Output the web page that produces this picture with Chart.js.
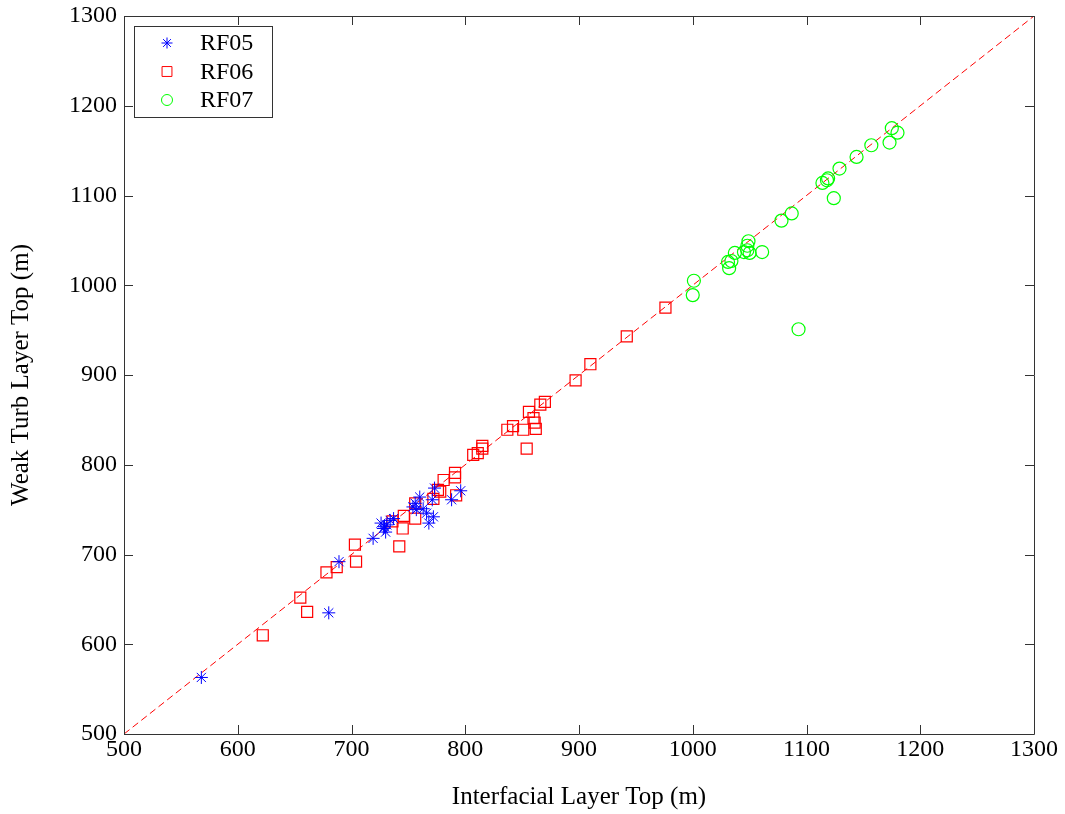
<!DOCTYPE html>
<html>
<head>
<meta charset="utf-8">
<script src="https://cdn.jsdelivr.net/npm/chart.js@4/dist/chart.umd.min.js"></script>
<style>
  html, body { margin: 0; padding: 0; background: #fff; }
  #wrap { width: 1065px; height: 814px; position: relative; }
</style>
</head>
<body>
<div id="wrap"><canvas id="layers"></canvas></div>
<script>
// interfacial layer top (x) vs weak turbulence layer top (y), metres
const rf05X = [568, 680, 689, 719, 726, 728, 729, 730, 731, 734, 737, 754, 756, 757, 760, 763, 766, 768, 772, 771, 773, 788, 796];
const rf05Y = [563, 635, 692, 718, 735, 729, 731, 725, 733, 738, 740, 753, 757, 750, 764, 751, 746, 735, 742, 761, 774, 761, 771];

const rf06X = [622, 655, 661, 678, 687, 703, 704, 742, 736, 746, 745, 756, 756, 772, 776, 781, 791, 791, 792, 778, 807, 811, 815, 815, 837, 842, 851, 854, 856, 860, 861, 862, 866, 870, 897, 910, 942, 976];
const rf06Y = [610, 652, 636, 680, 686, 711, 692, 709, 737, 743, 729, 740, 757, 762, 772, 783, 791, 786, 766, 770, 811, 813, 821, 818, 839, 843, 839, 818, 859, 852, 847, 840, 867, 870, 894, 912, 943, 975];

const rf07X = [1001, 1000, 1031, 1032, 1037, 1034, 1045, 1048, 1049, 1050, 1061, 1048, 1093, 1078, 1087, 1124, 1114, 1118, 1119, 1129, 1144, 1157, 1173, 1175, 1180];
const rf07Y = [1005, 989, 1026, 1019, 1036, 1027, 1037, 1039, 1049, 1036, 1037, 1044, 951, 1072, 1080, 1097, 1114, 1117, 1119, 1130, 1143, 1156, 1159, 1175, 1170];

const oneToOne = [500, 1300];
const axisMin = 500;
const axisMax = 1300;
const tickStep = 100;

const serif = '"Liberation Serif", "Times New Roman", serif';
const axisColor = '#333';

function toPoints(xs, ys) {
    return xs.map((x, i) => ({ x: x, y: ys[i] }));
}

// box around the plot with matlab-style inward ticks
const boxTicks = {
    id: 'boxTicks',
    afterDraw(chart) {
        const ctx = chart.ctx;
        const a = chart.chartArea;
        const xs = chart.scales.x;
        const ys = chart.scales.y;
        const len = 9;
        ctx.save();
        ctx.strokeStyle = axisColor;
        ctx.lineWidth = 1;
        ctx.beginPath();
        ctx.rect(Math.round(a.left) + 0.5, Math.round(a.top) + 0.5, Math.round(a.right - a.left), Math.round(a.bottom - a.top));
        for (let v = axisMin; v <= axisMax; v += tickStep) {
            const px = Math.round(xs.getPixelForValue(v)) + 0.5;
            ctx.moveTo(px, a.bottom); ctx.lineTo(px, a.bottom - len);
            ctx.moveTo(px, a.top); ctx.lineTo(px, a.top + len);
            const py = Math.round(ys.getPixelForValue(v)) + 0.5;
            ctx.moveTo(a.left, py); ctx.lineTo(a.left + len, py);
            ctx.moveTo(a.right, py); ctx.lineTo(a.right - len, py);
        }
        ctx.stroke();
        ctx.restore();
    }
};

// legend box in the upper left corner
const cornerLegend = {
    id: 'cornerLegend',
    afterDraw(chart) {
        const ctx = chart.ctx;
        const a = chart.chartArea;
        const bx = a.left + 10, by = a.top + 10, bw = 138, bh = 91;
        ctx.save();
        ctx.fillStyle = '#fff';
        ctx.fillRect(bx, by, bw, bh);
        ctx.strokeStyle = axisColor;
        ctx.lineWidth = 1;
        ctx.strokeRect(Math.round(bx) + 0.5, Math.round(by) + 0.5, bw, bh);
        ctx.font = '24px ' + serif;
        ctx.textBaseline = 'middle';
        const rows = chart.data.datasets.filter(d => d.type !== 'line');
        rows.forEach((d, i) => {
            const cy = by + 17 + i * 28.5;
            ctx.strokeStyle = d.borderColor;
            ctx.fillStyle = 'rgba(0,0,0,0)';
            ctx.lineWidth = 1;
            Chart.helpers.drawPoint(ctx, {
                pointStyle: d.pointStyle,
                radius: d.pointStyle === 'rect' ? 7 : 5.5,
                rotation: 0,
                borderWidth: 1
            }, bx + 33, cy);
            ctx.fillStyle = '#000';
            ctx.fillText(d.label, bx + 66, cy + 1);
        });
        ctx.restore();
    }
};

const plainTick = v => String(v);

const ctx = document.getElementById('layers');
const chart = new Chart(ctx, {
    type: 'scatter',
    data: {
        datasets: [
            {
                label: 'RF05',
                data: toPoints(rf05X, rf05Y),
                pointStyle: 'star',
                pointRadius: 6.5,
                borderColor: '#0000ff',
                backgroundColor: 'rgba(0,0,0,0)',
                pointBorderWidth: 1
            },
            {
                label: 'RF06',
                data: toPoints(rf06X, rf06Y),
                pointStyle: 'rect',
                pointRadius: 7.8,
                borderColor: '#ff0000',
                backgroundColor: 'rgba(0,0,0,0)',
                pointBorderWidth: 1.2
            },
            {
                label: 'RF07',
                data: toPoints(rf07X, rf07Y),
                pointStyle: 'circle',
                pointRadius: 6.5,
                borderColor: '#00ff00',
                backgroundColor: 'rgba(0,0,0,0)',
                pointBorderWidth: 1.2
            },
            {
                type: 'line',
                label: '1:1',
                data: toPoints(oneToOne, oneToOne),
                borderColor: '#ff0000',
                borderWidth: 1,
                borderDash: [7, 4],
                pointRadius: 0,
                fill: false
            }
        ]
    },
    options: {
        responsive: true,
        maintainAspectRatio: false,
        animation: false,
        events: [],
        layout: { padding: { left: 0, top: 16, right: 31, bottom: 0 } },
        plugins: {
            legend: { display: false },
            tooltip: { enabled: false }
        },
        scales: {
            x: {
                type: 'linear',
                min: axisMin,
                max: axisMax,
                border: { display: false },
                grid: { display: false, drawTicks: false },
                ticks: {
                    stepSize: tickStep,
                    padding: 1,
                    color: '#000',
                    maxRotation: 0,
                    callback: plainTick,
                    font: { family: serif, size: 24 }
                },
                title: {
                    display: true,
                    text: 'Interfacial Layer Top (m)',
                    color: '#000',
                    font: { family: serif, size: 25 },
                    padding: { top: 0, bottom: 2 }
                },
                afterFit(scale) {
                    scale.height = 80;
                    scale.paddingLeft = 0;
                    scale.paddingRight = 0;
                }
            },
            y: {
                type: 'linear',
                min: axisMin,
                max: axisMax,
                border: { display: false },
                grid: { display: false, drawTicks: false },
                ticks: {
                    stepSize: tickStep,
                    padding: 7,
                    color: '#000',
                    callback: plainTick,
                    font: { family: serif, size: 24 }
                },
                title: {
                    display: true,
                    text: 'Weak Turb Layer Top (m)',
                    color: '#000',
                    font: { family: serif, size: 25 },
                    padding: { top: 6, bottom: 0 }
                },
                afterFit(scale) {
                    scale.width = 124;
                    scale.paddingTop = 0;
                    scale.paddingBottom = 0;
                }
            }
        }
    },
    plugins: [boxTicks, cornerLegend]
});
</script>
</body>
</html>
